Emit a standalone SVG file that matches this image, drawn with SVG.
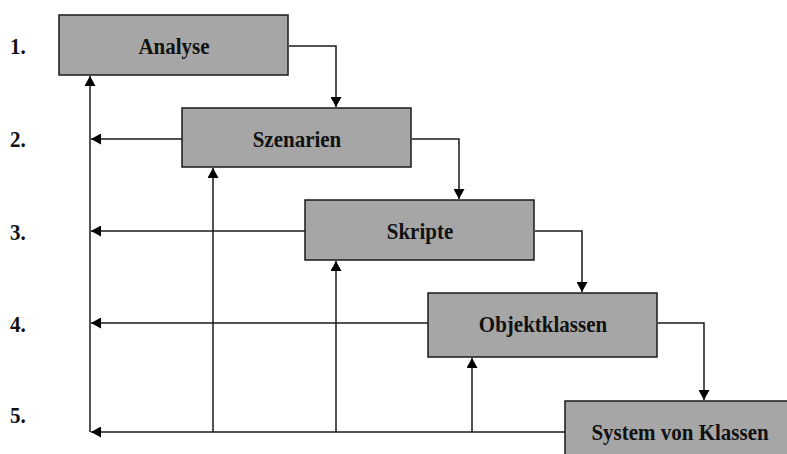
<svg xmlns="http://www.w3.org/2000/svg" width="787" height="454" viewBox="0 0 787 454">
  <style>
    .box { fill: #a6a6a6; stroke: #1a1a1a; stroke-width: 1.5; }
    .lbl { font-family: "Liberation Serif", "Times New Roman", serif; font-weight: bold; font-size: 21px; fill: #111; }
    .mid { text-anchor: middle; }
    .conn { fill: none; stroke: #1a1a1a; stroke-width: 1.5; marker-end: url(#arrow); }
  </style>
  <defs>
    <marker id="arrow" viewBox="0 0 10 11" refX="10" refY="5.5" markerWidth="10" markerHeight="11" markerUnits="userSpaceOnUse" orient="auto">
      <path d="M0,0 L10,5.5 L0,11 Z" fill="#000"/>
    </marker>
  </defs>

  <rect width="787" height="454" fill="#fff"/>

  <!-- step numbers; glyphs are drawn slightly taller than wide -->
  <g id="steps" class="lbl">
    <text transform="translate(10,54) scale(1,1.1)">1.</text>
    <text transform="translate(10,147) scale(1,1.1)">2.</text>
    <text transform="translate(10,240) scale(1,1.1)">3.</text>
    <text transform="translate(10,332) scale(1,1.1)">4.</text>
    <text transform="translate(10,423) scale(1,1.1)">5.</text>
  </g>

  <!-- connectors -->
  <g id="connectors">
    <!-- forward flow down the cascade -->
    <path class="conn" d="M289,46 H336 V107"/>
    <path class="conn" d="M412,139 H459 V199"/>
    <path class="conn" d="M535,231 H582 V292"/>
    <path class="conn" d="M658,323 H704 V400"/>
    <!-- feedback trunk back to Analyse -->
    <path class="conn" d="M90,432 V76"/>
    <!-- feedback from each stage to the trunk -->
    <path class="conn" d="M182,139 H91"/>
    <path class="conn" d="M305,231 H91"/>
    <path class="conn" d="M428,323 H91"/>
    <path class="conn" d="M565,432 H91"/>
    <!-- feedback up to earlier stages -->
    <path class="conn" d="M213,432 V168"/>
    <path class="conn" d="M336,432 V261"/>
    <path class="conn" d="M472,432 V358"/>
  </g>

  <g id="analyse">
    <rect class="box" x="59" y="15" width="229" height="60"/>
    <text class="lbl mid" transform="translate(174,54) scale(1,1.1)">Analyse</text>
  </g>
  <g id="szenarien">
    <rect class="box" x="182" y="108" width="229" height="59"/>
    <text class="lbl mid" transform="translate(297,147) scale(1,1.1)">Szenarien</text>
  </g>
  <g id="skripte">
    <rect class="box" x="305" y="200" width="229" height="60"/>
    <text class="lbl mid" transform="translate(420,239) scale(1,1.1)">Skripte</text>
  </g>
  <g id="objektklassen">
    <rect class="box" x="428" y="293" width="229" height="64"/>
    <text class="lbl mid" transform="translate(543,332) scale(1,1.1)">Objektklassen</text>
  </g>
  <g id="system-von-klassen">
    <rect class="box" x="565" y="401" width="230" height="60"/>
    <text class="lbl mid" transform="translate(680,440) scale(1,1.1)">System von Klassen</text>
  </g>
</svg>
